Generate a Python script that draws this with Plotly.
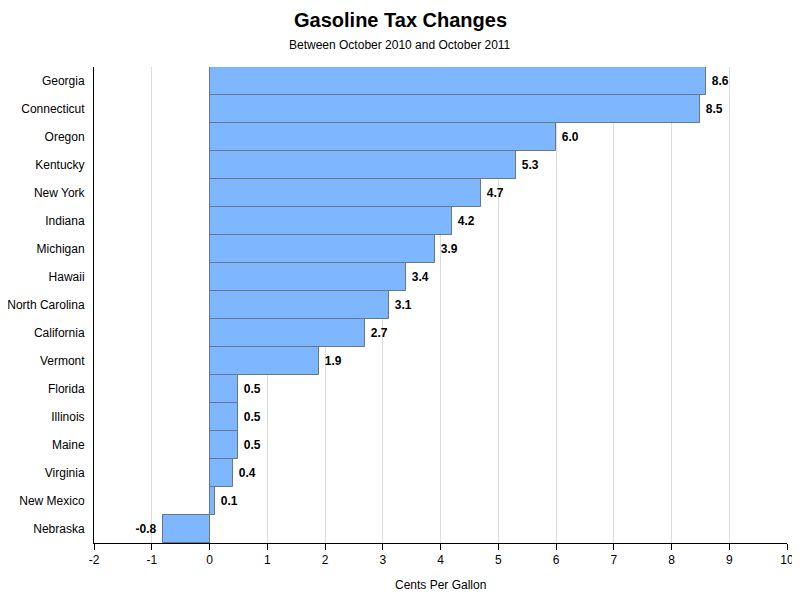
import plotly.graph_objects as go

states = ["Georgia", "Connecticut", "Oregon", "Kentucky", "New York", "Indiana",
          "Michigan", "Hawaii", "North Carolina", "California", "Vermont",
          "Florida", "Illinois", "Maine", "Virginia", "New Mexico", "Nebraska"]
changes = [8.6, 8.5, 6.0, 5.3, 4.7, 4.2, 3.9, 3.4, 3.1, 2.7, 1.9,
           0.5, 0.5, 0.5, 0.4, 0.1, -0.8]
x_ticks = [-2, -1, 0, 1, 2, 3, 4, 5, 6, 7, 8, 9, 10]

font = "Liberation Sans, Arial, sans-serif"

labels = [(" " + f"{v:.1f}") if v >= 0 else (f"{v:.1f}" + " ") for v in changes]

fig = go.Figure(go.Bar(
    y=states, x=changes, orientation="h",
    marker=dict(color="#7EB6FF", line=dict(color="#667788", width=1)),
    text=labels, textposition="outside",
    textfont=dict(family=font, size=12, color="black", weight="bold"),
    cliponaxis=False,
))

# page body has an 8px default margin; compensate so the figure lands where the reference is
OFF = 8
FW, FH = 800 - OFF, 600 - OFF
L, T, W, H = 94 - OFF, 67 - OFF, 693, 476

fig.update_layout(
    width=FW, height=FH,
    margin=dict(l=L, r=FW - L - W, t=T, b=FH - T - H, autoexpand=False),
    paper_bgcolor="white", plot_bgcolor="white",
    bargap=0,
    showlegend=False,
    font=dict(family=font, size=12, color="black"),
)
fig.add_annotation(text="<b>Gasoline Tax Changes</b>", xref="paper", yref="paper",
                   x=(400 - 94) / W, y=1 + (67 - 20) / H, showarrow=False,
                   font=dict(size=20, family=font), xanchor="center", yanchor="middle")
fig.add_annotation(text="Between October 2010 and October 2011", xref="paper", yref="paper",
                   x=(400 - 94) / W, y=1 + (67 - 45) / H, showarrow=False,
                   font=dict(size=12, family=font), xanchor="center", yanchor="middle")
fig.add_annotation(text="Cents Per Gallon", xref="paper", yref="paper",
                   x=(440 - 94) / W, y=-(585 - 67 - H) / H, showarrow=False,
                   font=dict(size=12, family=font), xanchor="center", yanchor="middle")

fig.update_xaxes(
    range=[-2, 10], tickvals=x_ticks, ticktext=[str(t) for t in x_ticks],
    showgrid=True, gridcolor="#DCDCDC", gridwidth=1,
    zeroline=True, zerolinecolor="black", zerolinewidth=1,
    showline=True, linecolor="black", linewidth=1,
    ticks="outside", ticklen=6, tickcolor="black",
    tickfont=dict(size=12), automargin=False,
)
fig.update_yaxes(
    autorange="reversed",
    showline=True, linecolor="black", linewidth=1,
    showgrid=False, ticks="", ticklabelstandoff=6,
    tickfont=dict(size=12), automargin=False,
)

fig.write_html("out.html")
